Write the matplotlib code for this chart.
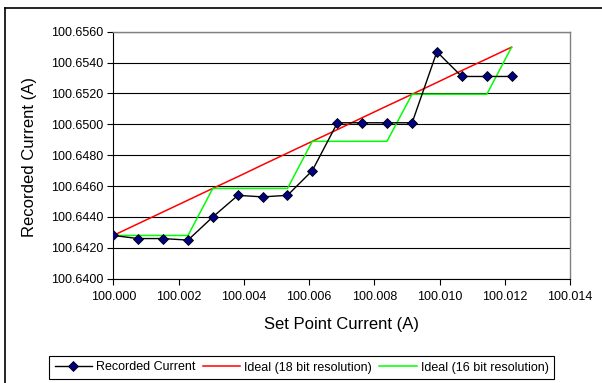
import matplotlib
matplotlib.use("Agg")
import matplotlib.pyplot as plt
from matplotlib.lines import Line2D

plt.rcParams['font.family'] = ['Liberation Sans', 'DejaVu Sans']

# ==================== Data ====================

set_point = [100.00000, 100.00076, 100.00153, 100.00229, 100.00305, 100.00382,
             100.00458, 100.00534, 100.00610, 100.00687, 100.00763, 100.00839,
             100.00916, 100.00992, 100.01068, 100.01145, 100.01221]

recorded = [100.6428, 100.6426, 100.6426, 100.6425, 100.6440, 100.6454,
            100.6453, 100.6454, 100.6470, 100.6501, 100.6501, 100.6501,
            100.6501, 100.6547, 100.6531, 100.6531, 100.6531]

ideal_18bit = [100.64280, 100.64356, 100.64433, 100.64509, 100.64585, 100.64661,
               100.64738, 100.64814, 100.64890, 100.64966, 100.65043, 100.65119,
               100.65195, 100.65271, 100.65348, 100.65424, 100.65500]

ideal_16bit = [100.64280, 100.64280, 100.64280, 100.64280, 100.64585, 100.64585,
               100.64585, 100.64585, 100.64890, 100.64890, 100.64890, 100.64890,
               100.65195, 100.65195, 100.65195, 100.65195, 100.65500]

x_ticks = [100.000, 100.002, 100.004, 100.006, 100.008, 100.010, 100.012, 100.014]
y_ticks = [100.6400, 100.6420, 100.6440, 100.6460, 100.6480, 100.6500,
           100.6520, 100.6540, 100.6560]

# ==================== Figure ====================

W, H = 602, 383
fig = plt.figure(figsize=(W / 100, H / 100), dpi=100)

# outer chart frame (only left/top edges visible in the crop)
fig.add_artist(Line2D([4.5 / W, 4.5 / W], [0, 1 - 8 / H], color='black', lw=1.2))
fig.add_artist(Line2D([4.5 / W, 1], [1 - 8 / H, 1 - 8 / H], color='black', lw=1.2))

left, right, top, bottom = 113.3, 570, 31.7, 278.7
ax = fig.add_axes([left / W, 1 - bottom / H, (right - left) / W, (bottom - top) / H])

ax.plot(set_point, ideal_18bit, color='#FF0000', lw=1.1, zorder=3)
ax.plot(set_point, ideal_16bit, color='#00FF00', lw=1.1, zorder=3)
ax.plot(set_point, recorded, color='black', lw=1.0, marker='D', markersize=5,
        markerfacecolor='#000080', markeredgecolor='black', markeredgewidth=0.6, zorder=4)

ax.set_xlim(x_ticks[0], x_ticks[-1])
ax.set_ylim(y_ticks[0], y_ticks[-1])
ax.set_xticks(x_ticks, [f"{v:.3f}" for v in x_ticks])
ax.set_yticks(y_ticks, [f"{v:.4f}" for v in y_ticks])
ax.tick_params(direction='out', length=4, width=0.8, labelsize=9, pad=3, colors='black')
ax.tick_params(axis='x', pad=5)
ax.yaxis.grid(True, color='black', lw=0.8)
ax.set_axisbelow(True)

for s in ('top', 'right'):
    ax.spines[s].set_color('#808080')
    ax.spines[s].set_linewidth(1.0)
for s in ('left', 'bottom'):
    ax.spines[s].set_color('black')
    ax.spines[s].set_linewidth(0.8)

fig.text(341 / W, 1 - 325 / H, 'Set Point Current (A)', ha='center', va='center', fontsize=12)
fig.text(30 / W, 1 - 157 / H, 'Recorded Current (A)', ha='center', va='center',
         rotation=90, fontsize=12)

handles = [
    Line2D([], [], color='black', lw=1.0, marker='D', markersize=5,
           markerfacecolor='#000080', markeredgecolor='black', markeredgewidth=0.6),
    Line2D([], [], color='#FF0000', lw=1.1),
    Line2D([], [], color='#00FF00', lw=1.1),
]
labels = ['Recorded Current', 'Ideal (18 bit resolution)', 'Ideal (16 bit resolution)']
leg = fig.legend(handles, labels, loc='center', bbox_to_anchor=(301.5 / W, 1 - 367.5 / H),
                 ncol=3, fontsize=9, frameon=True, fancybox=False, framealpha=1,
                 edgecolor='black', handlelength=3.0, handletextpad=0.3,
                 columnspacing=0.6, borderpad=0.45)
leg.get_frame().set_linewidth(0.8)

fig.savefig('out.png', dpi=100)
